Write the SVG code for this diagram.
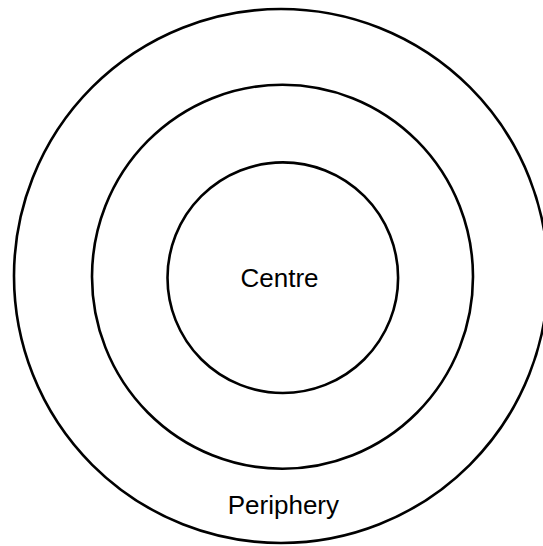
<svg xmlns="http://www.w3.org/2000/svg" width="543" height="546" viewBox="0 0 543 546">
<style>
.ring{fill:none;stroke:#000;stroke-width:2.6}
.lbl{font-family:"Liberation Sans",Arial,sans-serif;font-size:26px;fill:#000;text-anchor:middle}
</style>
<rect width="543" height="546" fill="#fff"/>
<g id="outer"><circle class="ring" cx="281" cy="276" r="267"/></g>
<g id="middle"><ellipse class="ring" cx="282.5" cy="276.7" rx="190.5" ry="192"/></g>
<g id="inner"><circle class="ring" cx="282.8" cy="277.7" r="115.3"/></g>
<g id="label-centre"><text class="lbl" x="279.5" y="287">Centre</text></g>
<g id="label-periphery"><text class="lbl" x="283.4" y="514">Periphery</text></g>
<g id="connectors"></g>
</svg>
